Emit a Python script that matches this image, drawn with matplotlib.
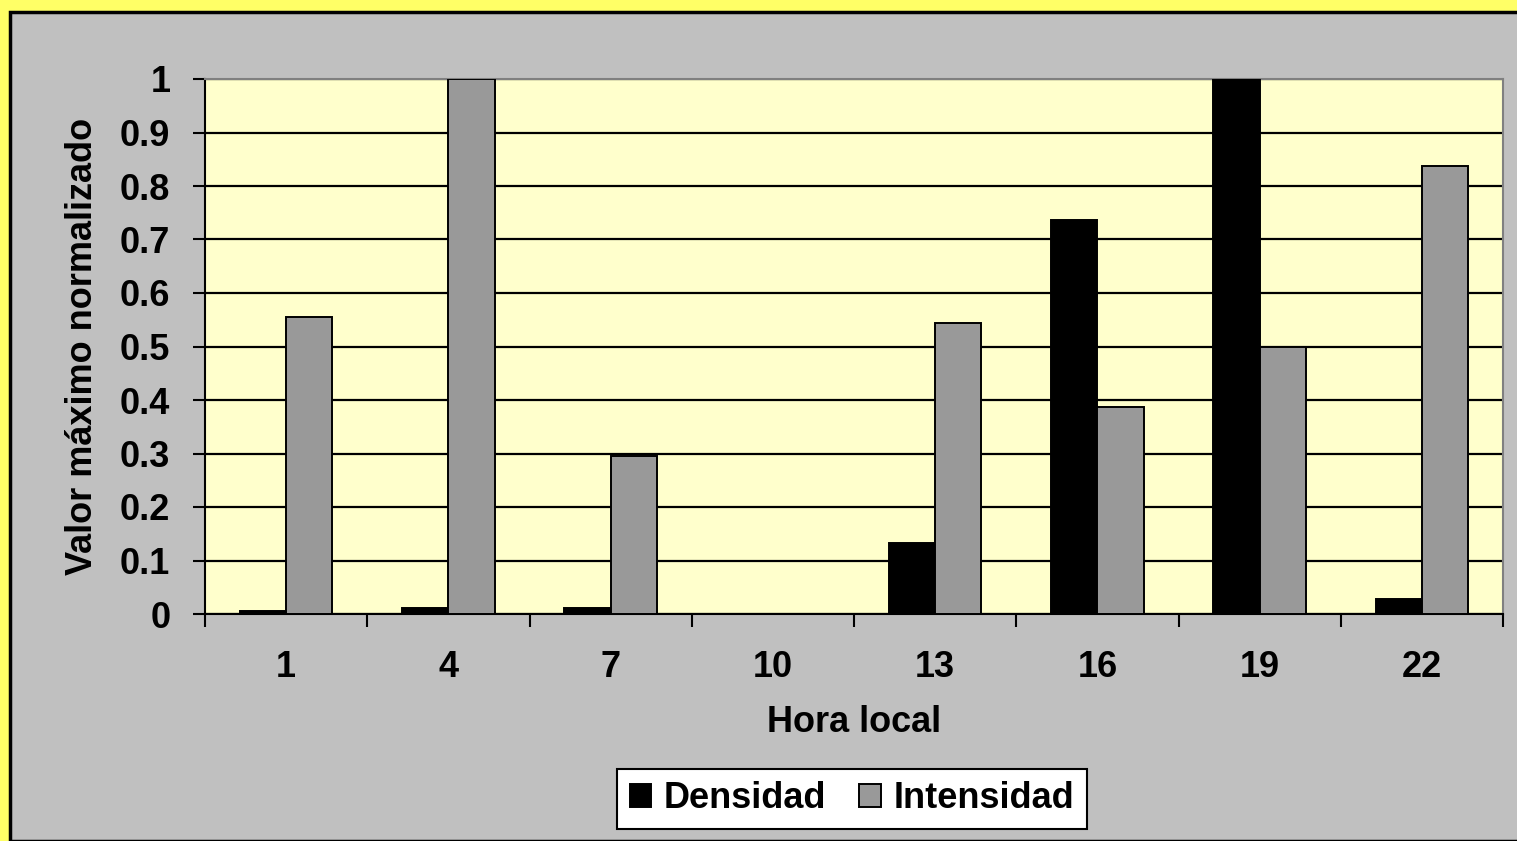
import numpy as np
import matplotlib.pyplot as plt
from matplotlib.patches import Rectangle

plt.rcParams['font.family'] = ['Liberation Sans', 'DejaVu Sans']
plt.rcParams['font.weight'] = 'bold'
plt.rcParams['axes.labelweight'] = 'bold'

horas = ['1', '4', '7', '10', '13', '16', '19', '22']
densidad = [0.005, 0.011, 0.011, 0.0, 0.133, 0.736, 1.0, 0.028]
intensidad = [0.555, 1.0, 0.295, 0.0, 0.544, 0.387, 0.499, 0.837]

FS = 26

fig = plt.figure(figsize=(15.17, 8.41), dpi=100)
fig.patch.set_facecolor('#FFFF66')

# gray chart panel with dark outline, yellow frame shows only top/left
panel = Rectangle((10 / 1517, 0), 1.0, 1 - 12 / 841, transform=fig.transFigure,
                  facecolor='#C0C0C0', edgecolor='black', linewidth=2.5, zorder=-10)
fig.patches.append(panel)

ax = fig.add_axes([205 / 1517, 1 - 614 / 841, (1503 - 205) / 1517, (614 - 79) / 841])
ax.set_facecolor('#FFFFCC')

x = np.arange(len(horas))
w = 1 / 3.5
ax.bar(x - w / 2, densidad, w, color='black', edgecolor='black', linewidth=1.4,
       label='Densidad', zorder=3)
ax.bar(x + w / 2, intensidad, w, color='#999999', edgecolor='black', linewidth=1.4,
       label='Intensidad', zorder=3)

ax.set_xlim(-0.5, len(horas) - 0.5)
ax.set_ylim(0, 1)
ax.set_yticks(np.arange(0, 1.01, 0.1))
ax.set_yticklabels(['0', '0.1', '0.2', '0.3', '0.4', '0.5', '0.6', '0.7', '0.8', '0.9', '1'])
ax.yaxis.grid(True, color='black', linewidth=1.6, zorder=1)
ax.set_axisbelow(True)

ax.set_xticks(x)
ax.set_xticklabels(horas)
ax.tick_params(axis='x', length=0, pad=26, labelsize=FS)
ax.set_xticks(np.arange(-0.5, len(horas)), minor=True)
ax.tick_params(axis='x', which='minor', length=9, width=1.5, direction='out')
ax.tick_params(axis='y', length=9, width=1.5, direction='out', pad=16, labelsize=FS)

for s in ['left', 'bottom']:
    ax.spines[s].set_color('black')
    ax.spines[s].set_linewidth(1.5)
for s in ['top', 'right']:
    ax.spines[s].set_color('#808080')
    ax.spines[s].set_linewidth(1.5)

ax.set_xlabel('Hora local', fontsize=FS, fontweight='bold', labelpad=14)
ax.set_ylabel('Valor máximo normalizado', fontsize=FS, fontweight='bold', labelpad=14)

leg = ax.legend(loc='center', bbox_to_anchor=(852 / 1517, 1 - 799 / 841),
                bbox_transform=fig.transFigure, ncol=2, fontsize=FS,
                frameon=True, fancybox=False, edgecolor='black', framealpha=1,
                handlelength=0.6, handleheight=0.6, handletextpad=0.35,
                columnspacing=0.9, borderpad=0.35)
leg.get_frame().set_linewidth(1.5)
leg.get_frame().set_facecolor('white')

fig.savefig('out.png', dpi=100, facecolor=fig.get_facecolor())
